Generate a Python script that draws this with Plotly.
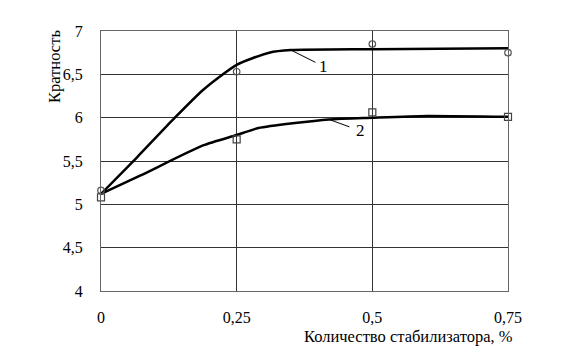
import plotly.graph_objects as go

# measured points
x_pts = [0, 0.25, 0.5, 0.75]
y1_pts = [5.16, 6.53, 6.85, 6.75]
y2_pts = [5.08, 5.75, 6.06, 6.01]

# smoothed curves
x1_curve = [0, 0.066, 0.133, 0.188, 0.25, 0.31, 0.35, 0.5, 0.75]
y1_curve = [5.12, 5.54, 5.98, 6.32, 6.61, 6.75, 6.78, 6.79, 6.8]
x2_curve = [0, 0.072, 0.188, 0.25, 0.29, 0.42, 0.5, 0.6, 0.75]
y2_curve = [5.12, 5.33, 5.68, 5.8, 5.88, 5.98, 6.0, 6.02, 6.01]

x_ticks = [0, 0.25, 0.5, 0.75]
x_ticktext = ["0", "0,25", "0,5", "0,75"]
y_ticks = [4, 4.5, 5, 5.5, 6, 6.5, 7]
y_ticktext = ["4", "4,5", "5", "5,5", "6", "6,5", "7"]

FONT = "Times New Roman, Liberation Serif, DejaVu Serif, serif"

fig = go.Figure()
fig.add_trace(go.Scatter(x=x1_curve, y=y1_curve, mode="lines",
                         line=dict(color="black", width=2.5, shape="spline", smoothing=0.6),
                         showlegend=False, hoverinfo="skip"))
fig.add_trace(go.Scatter(x=x2_curve, y=y2_curve, mode="lines",
                         line=dict(color="black", width=2.5, shape="spline", smoothing=0.6),
                         showlegend=False, hoverinfo="skip"))
fig.add_trace(go.Scatter(x=x_pts, y=y1_pts, mode="markers",
                         marker=dict(symbol="circle-open", size=6.5, color="#555", line=dict(width=1.2)),
                         showlegend=False, cliponaxis=False))
fig.add_trace(go.Scatter(x=x_pts, y=y2_pts, mode="markers",
                         marker=dict(symbol="square-open", size=7, color="#444", line=dict(width=1.2)),
                         showlegend=False, cliponaxis=False))

L, T = 93, 23
fig.update_layout(
    width=561, height=355,
    margin=dict(l=L, r=61, t=T, b=72),
    paper_bgcolor="white", plot_bgcolor="white",
    font=dict(family=FONT, size=16, color="black"),
    xaxis=dict(range=[0, 0.75], tickvals=x_ticks, ticktext=x_ticktext,
               showgrid=True, gridcolor="#333", gridwidth=1, zeroline=False,
               showline=True, linecolor="#666", linewidth=1, mirror=True,
               ticks="", ticklabelstandoff=12, fixedrange=True),
    yaxis=dict(range=[4, 7], tickvals=y_ticks, ticktext=y_ticktext,
               showgrid=True, gridcolor="#333", gridwidth=1, zeroline=False,
               showline=True, linecolor="#666", linewidth=1, mirror=True,
               ticks="", ticklabelstandoff=14, fixedrange=True),
    annotations=[
        dict(xref="x", yref="y", x=0.35, y=6.78, ax=26, ay=13, text="",
             showarrow=True, arrowhead=0, arrowwidth=1, arrowcolor="black"),
        dict(xref="x", yref="y", x=0.42, y=5.98, ax=22, ay=8, text="",
             showarrow=True, arrowhead=0, arrowwidth=1, arrowcolor="black"),
        dict(xref="paper", yref="paper", x=(323 - 101) / 407, y=(291 - 67) / 260,
             xanchor="center", yanchor="middle",
             text="1", showarrow=False, font=dict(size=17)),
        dict(xref="paper", yref="paper", x=(360 - 101) / 407, y=(291 - 130) / 260,
             xanchor="center", yanchor="middle",
             text="2", showarrow=False, font=dict(size=17)),
        dict(xref="paper", yref="paper", x=(408 - 101) / 407, y=(291 - 336) / 260,
             xanchor="center", yanchor="middle",
             text="Количество стабилизатора, %", showarrow=False, font=dict(size=16.5)),
        dict(xref="paper", yref="paper", x=(55 - 101) / 407, y=(291 - 67) / 260,
             xanchor="center", yanchor="middle",
             text="Кратность", textangle=-90, showarrow=False, font=dict(size=16.5)),
    ],
)

fig.write_html("out.html")
